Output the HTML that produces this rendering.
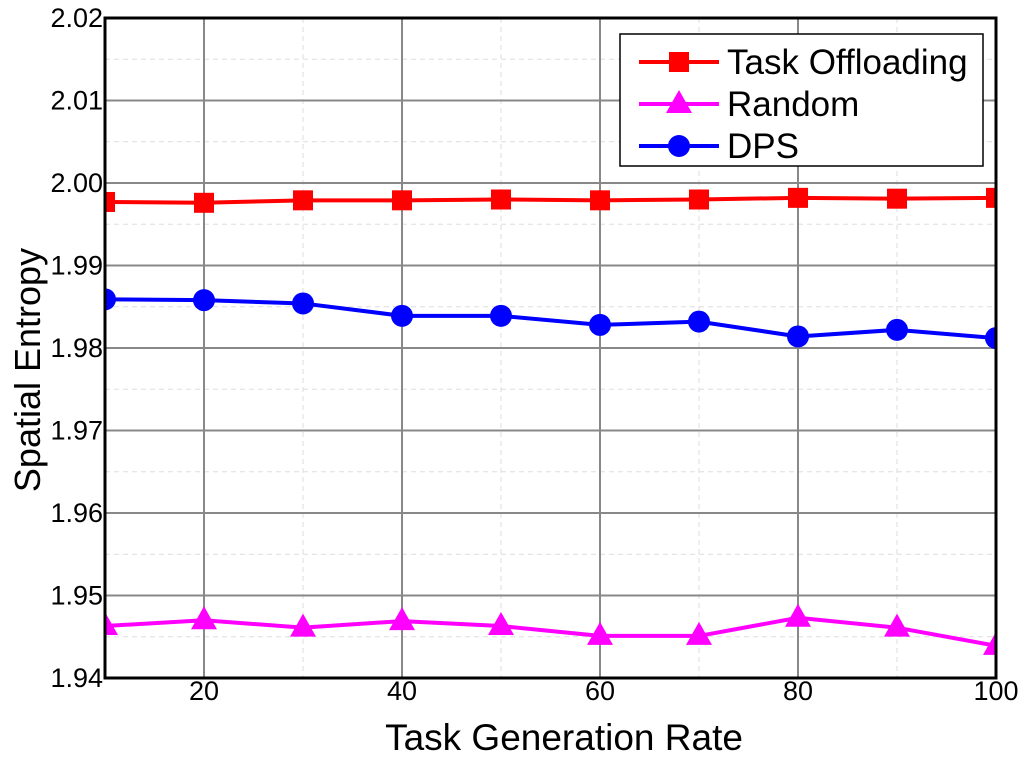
<!DOCTYPE html>
<html><head><meta charset="utf-8"><style>
body{margin:0;background:#fff;}
svg{display:block;font-family:"Liberation Sans",Arial,sans-serif;}
</style></head><body>
<svg id="chart" width="1024" height="757" viewBox="0 0 1024 757" xmlns="http://www.w3.org/2000/svg">
<defs><clipPath id="pc"><rect x="105" y="18" width="891" height="660"/></clipPath></defs>
<g id="grid"></g>
<g id="series" clip-path="url(#pc)"></g>
<rect x="105" y="18" width="891" height="660" fill="none" stroke="#000" stroke-width="3"/>
<g id="ticks"></g>
<text x="564" y="750" font-size="37" text-anchor="middle">Task Generation Rate</text>
<text transform="translate(40,370) rotate(-90)" font-size="36" text-anchor="middle">Spatial Entropy</text>
<g>
<rect x="620" y="34" width="363" height="132" fill="#fff" stroke="#000" stroke-width="1.5"/>
<line x1="639" y1="62" x2="719" y2="62" stroke="#f00" stroke-width="4"/><rect x="669" y="52" width="20" height="20" fill="#f00"/>
<text x="727" y="74" font-size="35">Task Offloading</text>
<line x1="639" y1="104" x2="719" y2="104" stroke="#f0f" stroke-width="4"/><polygon points="679,90 692,113 666,113" fill="#f0f"/>
<text x="727" y="116" font-size="35">Random</text>
<line x1="639" y1="146" x2="719" y2="146" stroke="#00f" stroke-width="4"/><circle cx="679" cy="146" r="11" fill="#00f"/>
<text x="727" y="158" font-size="35">DPS</text>
</g>
</svg>
<script>
const xs=[10,20,30,40,50,60,70,80,90,100];
const taskOffloading=[1.9977,1.9976,1.9979,1.9979,1.9980,1.9979,1.9980,1.9982,1.9981,1.9982];
const dps=[1.9859,1.9858,1.9854,1.9839,1.9839,1.9828,1.9832,1.9814,1.9822,1.9812];
const random=[1.9463,1.9470,1.9461,1.9469,1.9463,1.9451,1.9451,1.9473,1.9461,1.9439];
const xTicks=[20,40,60,80,100];
const yTicks=[1.94,1.95,1.96,1.97,1.98,1.99,2.00,2.01,2.02];
const X0=105,X1=996,Y0=678,Y1=18;
const sx=v=>X0+(v-10)/90*(X1-X0);
const sy=v=>Y0-(v-1.94)/0.08*(Y0-Y1);
const NS="http://www.w3.org/2000/svg";
function mk(t,a,p){const e=document.createElementNS(NS,t);for(const k in a)e.setAttribute(k,a[k]);p.appendChild(e);return e;}
const g=document.getElementById('grid'),tk=document.getElementById('ticks'),s=document.getElementById('series');
for(let v=30;v<100;v+=20){const l=mk('line',{x1:sx(v),x2:sx(v),y1:Y1,y2:Y0,stroke:'#ddd','stroke-dasharray':'5,4'},g);

}
for(let i=0;i<yTicks.length-1;i++){const v=yTicks[i]+0.005;const l=mk('line',{x1:X0,x2:X1,y1:sy(v),y2:sy(v),stroke:'#ddd','stroke-dasharray':'5,4'},g);

}
xTicks.forEach(v=>{const l=mk('line',{x1:sx(v),x2:sx(v),y1:Y1,y2:Y0,stroke:'#888','stroke-width':2},g);


const t=mk('text',{x:sx(v)-(v===100?0:0),y:Y0+22,'font-size':27,'text-anchor':'middle'},tk);t.textContent=v;

});
yTicks.forEach(v=>{const l=mk('line',{x1:X0,x2:X1,y1:sy(v),y2:sy(v),stroke:'#888','stroke-width':2},g);


const t=mk('text',{x:X0-2,y:sy(v)+9,'font-size':27,'text-anchor':'end'},tk);t.textContent=v.toFixed(2);

});
function series(data,color,shape,name){
const p=mk('polyline',{points:data.map((v,i)=>sx(xs[i])+','+sy(v)).join(' '),fill:'none',stroke:color,'stroke-width':4},s);


data.forEach((v,i)=>{const x=sx(xs[i]),y=sy(v);let m;
if(shape==='sq')m=mk('rect',{x:x-10,y:y-10,width:20,height:20,fill:color},s);
else if(shape==='tri')m=mk('polygon',{points:`${x},${y-14} ${x+13},${y+9} ${x-13},${y+9}`,fill:color},s);
else m=mk('circle',{cx:x,cy:y,r:11,fill:color},s);

});}
series(taskOffloading,'#f00','sq','task-offloading');
series(random,'#f0f','tri','random');
series(dps,'#00f','circ','dps');
</script>
</body></html>
